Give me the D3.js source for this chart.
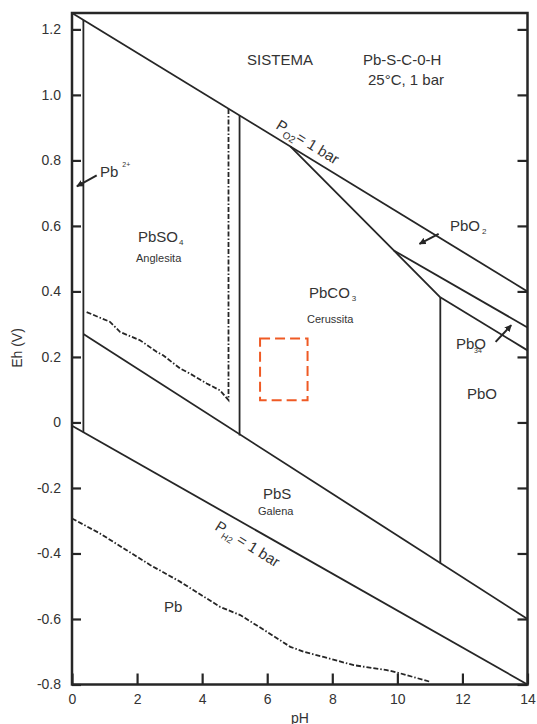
<!DOCTYPE html>
<html><head><meta charset="utf-8">
<script src="https://cdn.jsdelivr.net/npm/d3@7"></script>
<style>
html,body{margin:0;padding:0;background:#fff;}
svg{display:block;font-family:"Liberation Sans",Arial,sans-serif;}
</style></head><body>
<svg id="chart" width="537" height="724"></svg>
<script>
// ---- data ----
const phTicks = [0, 2, 4, 6, 8, 10, 12, 14];
const phTickLabels = ["0", "2", "4", "6", "8", "10", "12", "14"];
const ehTicks = [-0.8, -0.6, -0.4, -0.2, 0, 0.2, 0.4, 0.6, 0.8, 1.0, 1.2];
const ehTickLabels = ["-0.8", "-0.6", "-0.4", "-0.2", "0", "0.2", "0.4", "0.6", "0.8", "1.0", "1.2"];

// stability field boundaries, [pH, Eh (V)]
const waterUpper = [[0, 1.25], [14, 0.40]];
const waterLower = [[0, -0.01], [14, -0.80]];
const pb2Boundary = [[0.35, 1.229], [0.35, -0.03]];
const sulfateSulfide = [[0.35, 0.27], [14, -0.60]];
const sulfateCarbonate = [[5.15, 0.937], [5.15, -0.04]];
const pbo2Carbonate = [[6.71, 0.843], [9.89, 0.525], [11.32, 0.382]];
const pbo2Pb3o4 = [[9.89, 0.525], [14, 0.29]];
const pb3o4Pbo = [[11.32, 0.382], [14, 0.22]];
const carbonatePbo = [[11.32, 0.382], [11.32, -0.43]];
const anglesitaDashed = [[0.45, 0.337], [1.17, 0.307], [1.48, 0.276], [2.09, 0.251], [2.61, 0.215],
  [2.80, 0.205], [3.32, 0.165], [3.63, 0.149], [4.14, 0.119], [4.55, 0.098], [4.81, 0.068], [4.81, 0.958]];
const pbDashed = [[0.0, -0.293], [0.86, -0.339], [1.68, -0.390], [2.40, -0.435], [3.32, -0.486],
  [4.55, -0.563], [5.17, -0.588], [5.99, -0.639], [6.71, -0.685], [7.12, -0.700], [7.73, -0.716],
  [8.66, -0.741], [9.68, -0.756], [10.09, -0.766], [11.02, -0.792]];
const boxPh = [5.78, 7.24];
const boxEh = [0.068, 0.256];
const arrowPb2 = [[0.76, 0.754], [0.15, 0.721]];
const arrowPbO2 = [[11.27, 0.576], [10.68, 0.545]];
const arrowPb3O4 = [[13.02, 0.246], [13.50, 0.297]];

// ---- drawing ----
const svg = d3.select("#chart");
const x = d3.scaleLinear().domain([0, 14]).range([72, 527.5]);
const y = d3.scaleLinear().domain([-0.8, 1.25]).range([684.5, 13]);
const ink = "#262626";

const defs = svg.append("defs");
defs.append("marker").attr("id", "ah").attr("viewBox", "0 0 10 10")
  .attr("refX", 9).attr("refY", 5).attr("markerWidth", 7).attr("markerHeight", 7)
  .attr("markerUnits", "userSpaceOnUse").attr("orient", "auto")
  .append("path").attr("d", "M0,0 L10,5 L0,10 z").attr("fill", ink);

const line = d3.line().x(d => x(d[0])).y(d => y(d[1]));

// axes
const gl = svg.append("g").attr("transform", `translate(${x(0)},0)`)
  .call(d3.axisLeft(y).tickValues(ehTicks).tickFormat((d, i) => ehTickLabels[i]).tickSize(-9).tickPadding(11));
const gr = svg.append("g").attr("transform", `translate(${x(14)},0)`)
  .call(d3.axisRight(y).tickValues(ehTicks).tickFormat("").tickSize(-10));
const gb = svg.append("g").attr("transform", `translate(0,${y(-0.8)})`)
  .call(d3.axisBottom(x).tickValues(phTicks).tickFormat((d, i) => phTickLabels[i]).tickSize(-11).tickPadding(10));
[gl, gr, gb].forEach(g => {
  g.select(".domain").remove();
  g.selectAll(".tick line").attr("stroke", ink).attr("stroke-width", 2.2);
  g.selectAll(".tick text").attr("fill", "#333").style("font-size", "14px").style("font-family", "Liberation Sans, Arial, sans-serif");
});

// frame
svg.append("rect").attr("x", x(0)).attr("y", y(1.25)).attr("width", x(14) - x(0)).attr("height", y(-0.8) - y(1.25))
  .attr("fill", "none").attr("stroke", ink).attr("stroke-width", 2.5);

// boundaries
const solid = [waterUpper, waterLower, pb2Boundary, sulfateSulfide, sulfateCarbonate, pbo2Carbonate, pbo2Pb3o4, pb3o4Pbo, carbonatePbo];
svg.append("g").selectAll("path").data(solid).join("path")
  .attr("d", line).attr("fill", "none").attr("stroke", ink).attr("stroke-width", 1.8);

svg.append("path").datum(anglesitaDashed).attr("d", line).attr("fill", "none")
  .attr("stroke", ink).attr("stroke-width", 1.8).attr("stroke-dasharray", "5,2,5,2,1.5,2");
svg.append("path").datum(pbDashed).attr("d", line).attr("fill", "none")
  .attr("stroke", ink).attr("stroke-width", 1.8).attr("stroke-dasharray", "5,2,5,2,1.5,2");

// study box
svg.append("rect").attr("x", x(boxPh[0])).attr("y", y(boxEh[1]))
  .attr("width", x(boxPh[1]) - x(boxPh[0])).attr("height", y(boxEh[0]) - y(boxEh[1]))
  .attr("fill", "none").attr("stroke", "#ef5a24").attr("stroke-width", 2).attr("stroke-dasharray", "10,5");

// arrows
svg.append("g").selectAll("path").data([arrowPb2, arrowPbO2, arrowPb3O4]).join("path")
  .attr("d", line).attr("fill", "none").attr("stroke", ink).attr("stroke-width", 2).attr("marker-end", "url(#ah)");

// labels
function label(t, px, py, size, opts = {}) {
  const el = svg.append("text").attr("x", px).attr("y", py).attr("fill", "#333")
    .style("font-size", size + "px").attr("text-anchor", opts.anchor || "start");
  if (opts.transform) el.attr("transform", opts.transform);
  el.text(t);
  return el;
}
function chem(base, sub, px, py, size, subSize, subDy, subDx) {
  const el = svg.append("text").attr("x", px).attr("y", py).attr("fill", "#333").style("font-size", size + "px");
  el.append("tspan").text(base);
  el.append("tspan").attr("dy", subDy).attr("dx", subDx || 1).style("font-size", subSize + "px").text(sub);
  return el;
}

label("SISTEMA", 280, 65, 15, {anchor: "middle"});
label("Pb-S-C-0-H", 363, 65, 15);
label("25°C, 1 bar", 368, 85, 15);

chem("Pb", "2+", 100, 177, 15, 7, -10, 4);
chem("PbSO", "4", 138, 242, 15, 8, 3, 1);
label("Anglesita", 136, 262, 11);
chem("PbCO", "3", 309, 298, 15, 8, 3, 2);
label("Cerussita", 307, 323, 11);
chem("PbO", "2", 450, 231, 15, 8, 3, 2);
chem("PbO", "34", 456, 349, 15, 7, 4, -12);
label("PbO", 467, 399, 15);
label("PbS", 263, 499, 15);
label("Galena", 258, 515, 11);
label("Pb", 164, 612, 15);

// P_O2 and P_H2 labels along the water lines
const o2 = svg.append("text").attr("transform", "translate(275,128) rotate(31.5)").attr("fill", "#333").style("font-size", "15px");
o2.append("tspan").text("P");
o2.append("tspan").attr("dy", 4).style("font-size", "10px").text("O2");
o2.append("tspan").attr("dy", -4).text("= 1 bar");

const h2 = svg.append("text").attr("transform", "translate(214,529) rotate(32)").attr("fill", "#333").style("font-size", "15px");
h2.append("tspan").text("P");
h2.append("tspan").attr("dy", 4).style("font-size", "9px").text("H2");
h2.append("tspan").attr("dy", -4).text(" = 1 bar");

// axis titles
label("Eh (V)", 0, 0, 14, {anchor: "middle", transform: "translate(22,348) rotate(-90)"});
label("pH", 300, 723, 14, {anchor: "middle"});
</script>
</body></html>
